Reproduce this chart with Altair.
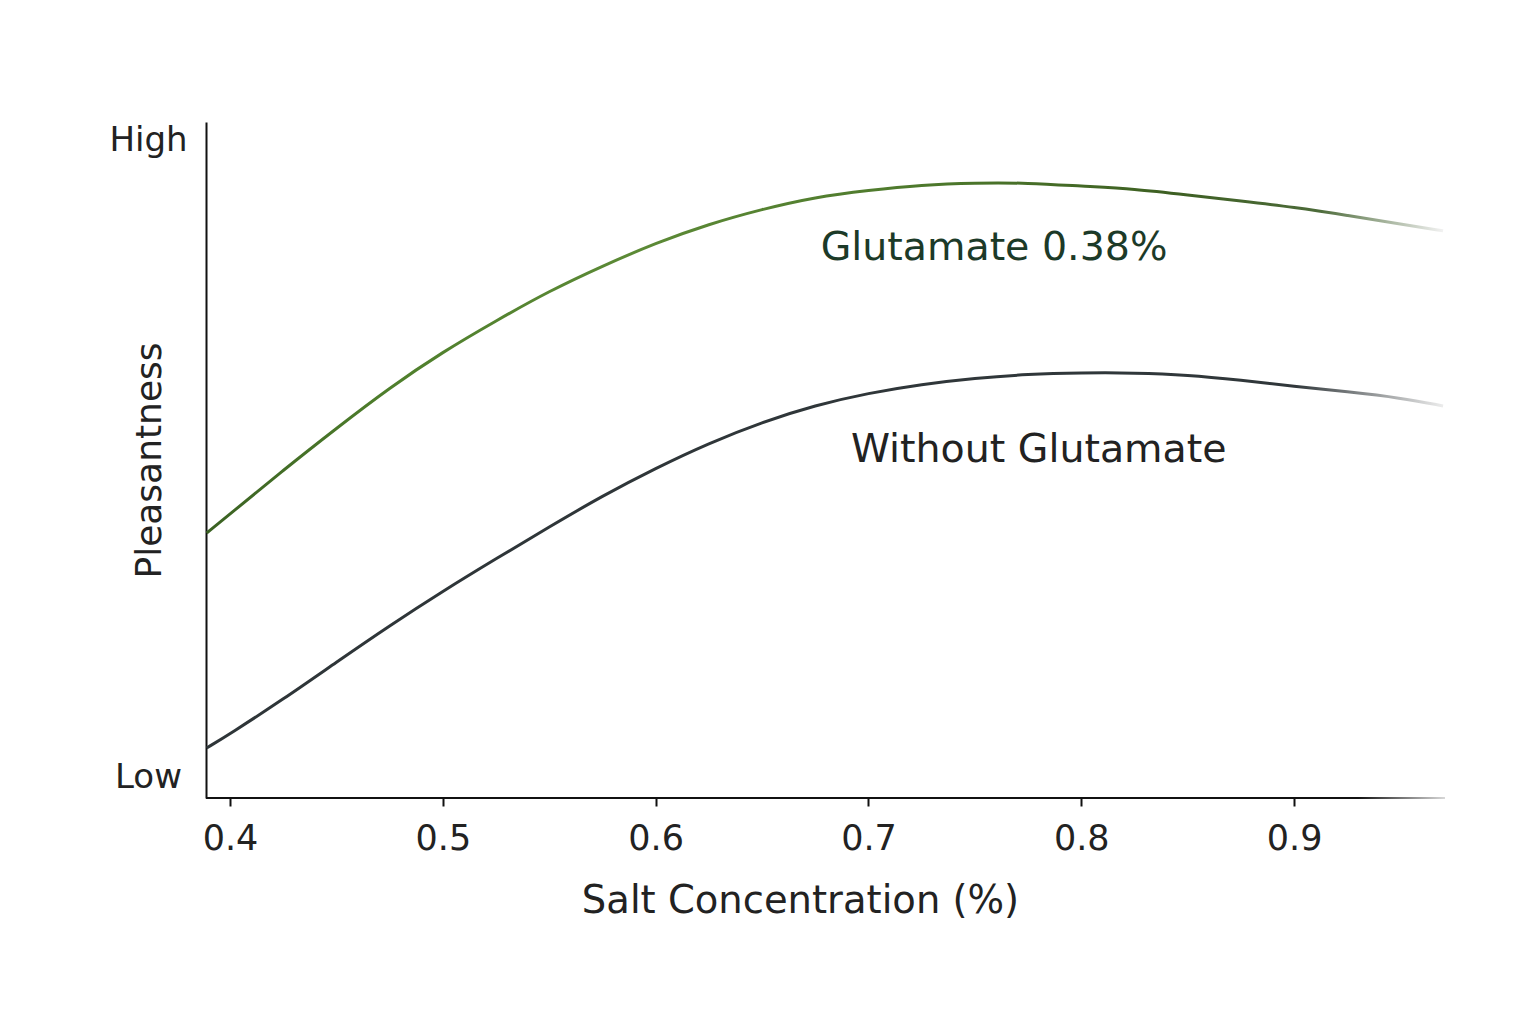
import altair as alt
import pandas as pd

# Data
salt = [0.389, 0.400, 0.425, 0.450, 0.475, 0.500, 0.525, 0.550, 0.575, 0.600,
        0.625, 0.650, 0.675, 0.700, 0.725, 0.750, 0.775, 0.800, 0.825, 0.850,
        0.875, 0.900, 0.925, 0.950, 0.970]
glutamate = [39.2, 42.0, 48.5, 54.7, 60.7, 66.0, 70.6, 75.0, 78.7, 82.1,
             84.9, 87.1, 88.9, 89.9, 90.7, 91.0, 91.0, 90.5, 90.1, 89.2,
             88.3, 87.4, 86.2, 84.9, 83.9]
without = [7.4, 9.5, 14.6, 20.1, 25.5, 30.6, 35.4, 40.1, 44.7, 48.8,
           52.5, 55.6, 58.1, 59.9, 61.2, 62.1, 62.7, 62.9, 62.9, 62.6,
           61.8, 60.9, 60.1, 59.2, 58.0]

x_ticks = [0.4, 0.5, 0.6, 0.7, 0.8, 0.9]
y_ticks = [3.1, 97.3]

label_text = ["Glutamate 0.38%", "Without Glutamate"]
label_x = [0.759, 0.780]
label_y = [81.4, 51.5]
label_color = ["#1c3a28", "#222222"]

X_DOMAIN = [0.3887, 0.9709]
Y_DOMAIN = [0, 100]
FONT = "DejaVu Sans"

df_g = pd.DataFrame({"salt": salt, "value": glutamate})
df_w = pd.DataFrame({"salt": salt, "value": without})
df_lab = pd.DataFrame({"text": label_text, "x": label_x, "y": label_y, "color": label_color})
df_axis = pd.DataFrame({"x0": [X_DOMAIN[0]], "x1": [X_DOMAIN[1]], "y0": [-0.16], "y1": [0.16]})

xs = alt.Scale(domain=X_DOMAIN, nice=False, zero=False)
ys = alt.Scale(domain=Y_DOMAIN, nice=False, zero=False)

x_axis = alt.Axis(
    values=x_ticks, format=".1f", title="Salt Concentration (%)",
    domain=False, grid=False, ticks=True, tickSize=8, tickWidth=2, tickColor="#111111",
    labelFont=FONT, labelFontSize=35, labelColor="#222222", labelPadding=15,
    titleFont=FONT, titleFontSize=38.5, titleFontWeight="normal", titleColor="#222222",
    titleX=594, titleY=114, titleAlign="center", titleBaseline="alphabetic",
)
y_axis = alt.Axis(
    values=y_ticks, labelExpr="datum.value > 50 ? 'High' : 'Low'",
    title="Pleasantness", domain=True, domainColor="#111111", domainWidth=2,
    grid=False, ticks=False, tickSize=0,
    labelFont=FONT, labelFontSize=34, labelColor="#222222", labelAlign="center",
    labelPadding=58, labelBaseline="middle",
    titleFont=FONT, titleFontSize=36, titleFontWeight="normal", titleColor="#222222",
    titleX=-46, titleY=338, titleAngle=270, titleAlign="center", titleBaseline="alphabetic",
)

green_grad = alt.LinearGradient(
    gradient="linear", x1=0, x2=1, y1=0, y2=0,
    stops=[
        alt.GradientStop(color="#3a6122", offset=0.0),
        alt.GradientStop(color="#4f7f2c", offset=0.15),
        alt.GradientStop(color="#5c8a36", offset=0.35),
        alt.GradientStop(color="#4c772b", offset=0.6),
        alt.GradientStop(color="#3d5f22", offset=0.78),
        alt.GradientStop(color="#4d6b3a", offset=0.9),
        alt.GradientStop(color="#f2f2f2", offset=1.0),
    ],
)
gray_grad = alt.LinearGradient(
    gradient="linear", x1=0, x2=1, y1=0, y2=0,
    stops=[
        alt.GradientStop(color="#2e3538", offset=0.0),
        alt.GradientStop(color="#30373a", offset=0.88),
        alt.GradientStop(color="#ececec", offset=1.0),
    ],
)
axis_grad = alt.LinearGradient(
    gradient="linear", x1=0, x2=1, y1=0, y2=0,
    stops=[
        alt.GradientStop(color="#111111", offset=0.0),
        alt.GradientStop(color="#111111", offset=0.93),
        alt.GradientStop(color="#d8d8d8", offset=1.0),
    ],
)

base_axes = alt.Chart(df_g).mark_line(opacity=0).encode(
    x=alt.X("salt:Q", scale=xs, axis=x_axis),
    y=alt.Y("value:Q", scale=ys, axis=y_axis),
)

line_g = alt.Chart(df_g).mark_line(stroke=green_grad, strokeWidth=3, interpolate="basis").encode(
    x=alt.X("salt:Q", scale=xs), y=alt.Y("value:Q", scale=ys)
)
line_w = alt.Chart(df_w).mark_line(stroke=gray_grad, strokeWidth=3, interpolate="basis").encode(
    x=alt.X("salt:Q", scale=xs), y=alt.Y("value:Q", scale=ys)
)
x_line = alt.Chart(df_axis).mark_rect(fill=axis_grad).encode(
    x=alt.X("x0:Q", scale=xs), x2="x1:Q",
    y=alt.Y("y0:Q", scale=ys), y2="y1:Q",
)
labels = alt.Chart(df_lab).mark_text(font=FONT, fontSize=39.5, align="center", baseline="middle").encode(
    x=alt.X("x:Q", scale=xs), y=alt.Y("y:Q", scale=ys),
    text="text:N", color=alt.Color("color:N", scale=None),
)

chart = alt.layer(base_axes, line_g, line_w, x_line, labels).properties(
    width=1239, height=676,
    autosize=alt.AutoSizeParams(type="none"),
    padding={"left": 198, "top": 114, "right": 60, "bottom": 180},
    background="#ffffff",
).configure_view(stroke=None)

chart.save("out.html", embed_options={"renderer": "svg", "actions": False})
